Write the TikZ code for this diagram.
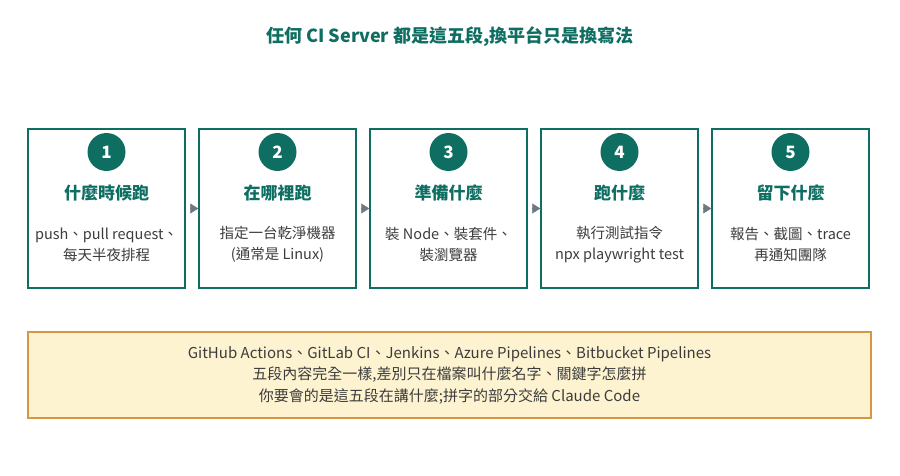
\documentclass[tikz,border=0pt]{standalone}
\usepackage{fontspec}
\setmainfont{Noto Sans CJK TC}
\usetikzlibrary{arrows.meta}
\definecolor{teal}{RGB}{15,110,98}
\definecolor{notefill}{RGB}{253,243,208}
\definecolor{noteline}{RGB}{214,150,70}
\definecolor{bodytext}{RGB}{60,60,60}
\definecolor{tipgray}{RGB}{110,120,130}

\begin{document}
\begin{tikzpicture}[x=1pt, y=-1pt,
	stage/.style={draw=teal, line width=1.5pt, minimum width=157pt, minimum height=159pt, inner sep=0pt},
	num/.style={circle, fill=teal, text=white, minimum size=38pt, inner sep=0pt, font=\fontsize{17}{17}\selectfont\bfseries},
	head/.style={text=teal, font=\fontsize{17}{17}\selectfont\bfseries},
	body/.style={text=bodytext, align=center, font=\fontsize{14.5}{21}\selectfont},
	link/.style={draw=tipgray, line width=0.4pt, shorten <=4pt, -{Triangle[length=8pt, width=10pt]}}
]
	\useasboundingbox (0,0) rectangle (900,476);

	\node[text=teal, font=\fontsize{18}{18}\selectfont\bfseries] (title) at (450,37) {任何 CI Server 都是這五段,換平台只是換寫法};

	% five stages
	\foreach \i/\x/\hd/\la/\lb in {
		1/106.5/什麼時候跑/push、pull request、/每天半夜排程,
		2/277.5/在哪裡跑/指定一台乾淨機器/(通常是 Linux),
		3/448.5/準備什麼/裝 Node、裝套件、/裝瀏覽器,
		4/619.5/跑什麼/執行測試指令/npx playwright test,
		5/790.5/留下什麼/報告、截圖、trace/再通知團隊
	}{
		\node[stage] (s\i) at (\x,208.5) {};
		\node[num] (n\i) at (\x,152) {\i};
		\node[head] (h\i) at (\x,193) {\hd};
		\node[body] (t\i) at (\x,244.5) {\la\\\lb};
	}

	\foreach \a/\b in {1/2, 2/3, 3/4, 4/5}{
		\draw[link] (s\a.east) -- (s\b.west);
	}

	% note
	\node[draw=noteline, fill=notefill, line width=1.2pt, minimum width=843pt, minimum height=86pt,
		text=bodytext, align=center, font=\fontsize{15}{21.5}\selectfont] (note) at (449.5,375)
		{GitHub Actions、GitLab CI、Jenkins、Azure Pipelines、Bitbucket Pipelines\\
		 五段內容完全一樣,差別只在檔案叫什麼名字、關鍵字怎麼拼\\
		 你要會的是這五段在講什麼;拼字的部分交給 Claude Code};
\end{tikzpicture}
\end{document}
